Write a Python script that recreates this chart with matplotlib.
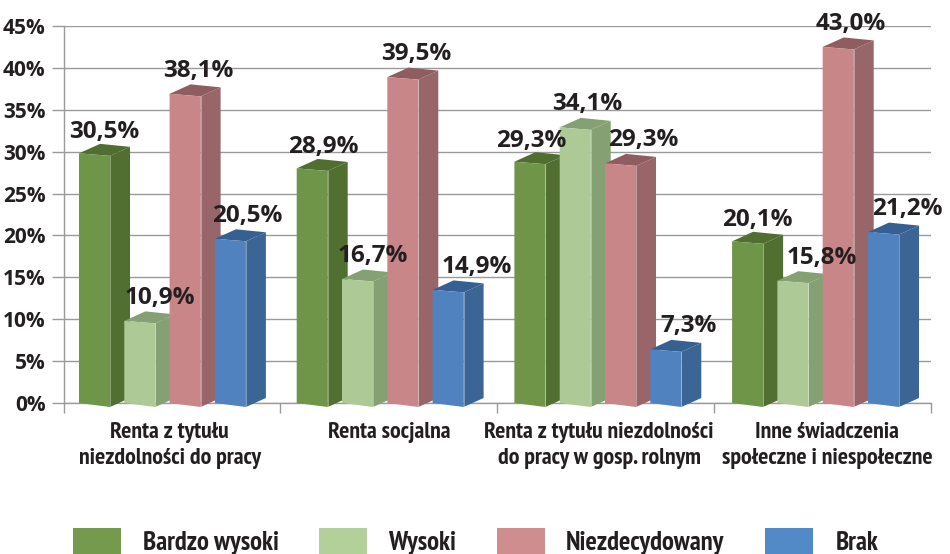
import matplotlib
matplotlib.use("Agg")
import matplotlib.pyplot as plt
from matplotlib import font_manager as fm
from matplotlib.patches import Polygon, Rectangle

#data
categories = ["Renta z tytułu\nniezdolności do pracy", "Renta socjalna",
              "Renta z tytułu niezdolności\ndo pracy w gosp. rolnym",
              "Inne świadczenia\nspołeczne i niespołeczne"]
series_names = ["Bardzo wysoki", "Wysoki", "Niezdecydowany", "Brak"]
bardzo_wysoki = [30.5, 28.9, 29.3, 20.1]
wysoki = [10.9, 16.7, 34.1, 15.8]
niezdecydowany = [38.1, 39.5, 29.3, 43.0]
brak = [20.5, 14.9, 7.3, 21.2]
#the drawn bars sit a bit lower than their printed labels, heights
height_bardzo_wysoki = [29.8, 28.0, 28.8, 19.3]
height_wysoki = [9.8, 14.8, 32.9, 14.6]
height_niezdecydowany = [36.9, 38.9, 28.6, 42.5]
height_brak = [19.6, 13.5, 6.4, 20.4]
y_ticks = [0, 5, 10, 15, 20, 25, 30, 35, 40, 45]

#styles
FRONT = ["#6f9549", "#adc995", "#c88688", "#4f82bf"]
SIDE = ["#506f31", "#85a072", "#986669", "#3b6595"]
TOP = ["#4f6e30", "#85a072", "#8f5d60", "#366092"]
LEGEND = ["#769a4d", "#b3d09a", "#d08d90", "#528ac8"]
TEXT = "#231f20"
GRID = "#9a9a9a"
WIDE_FONT = ["Open Sans", "DejaVu Sans"]

#condensed bold for the category names, Open Sans at a smaller size if it is missing
try:
    fm.findfont("PT Sans Narrow", fallback_to_default=False)
    NARROW_FONT, NARROW_SCALE = ["PT Sans Narrow", "DejaVu Sans"], 1.0
except ValueError:
    NARROW_FONT, NARROW_SCALE = WIDE_FONT, 0.72

W, H = 950, 554
LEFT, RIGHT, TOP_Y, BOTTOM_Y = 63.5, 931.0, 26.0, 403.0
PX_X = (RIGHT - LEFT) / 4
PX_Y = (BOTTOM_Y - TOP_Y) / 45

#label shift from the centre of the bar's front face, px
label_dx = [[10, 20, 13, 17], [11, 15, 13, 29], [1, 12, 23, 23], [10, 29, 13, 24]]
label_dy = [21, 23, 23, 23]

plt.rcParams["font.family"] = WIDE_FONT
plt.rcParams["font.weight"] = "bold"
fig = plt.figure(figsize=(W / 100, H / 100), dpi=100)
ax = fig.add_axes([LEFT / W, 1 - BOTTOM_Y / H, (RIGHT - LEFT) / W, (BOTTOM_Y - TOP_Y) / H])
ax.set_xlim(0, 4)
ax.set_ylim(0, 45)
for s in ["top", "right", "bottom"]:
    ax.spines[s].set_visible(False)
ax.spines["left"].set_color(GRID)
ax.spines["left"].set_linewidth(1.0)

#grid runs out over the tick marks
ax.set_axisbelow(True)
ax.set_yticks(y_ticks)
ax.set_yticklabels([f"{v}%" for v in y_ticks], fontsize=15, color=TEXT)
ax.tick_params(axis="y", length=9, width=1.0, color=GRID, pad=4)
ax.grid(True, axis="y", color=GRID, linewidth=1.0)
ax.axhline(0, color=GRID, linewidth=1.0, clip_on=False)

ax.set_xticks([0, 1, 2, 3, 4])
ax.set_xticklabels([])
ax.tick_params(axis="x", which="major", length=7, width=1.0, color=GRID)
ax.set_xticks([0.49, 1.5, 2.47, 3.52], minor=True)
ax.set_xticklabels(categories, minor=True, fontsize=17.2 * NARROW_SCALE, color=TEXT,
                   linespacing=1.3, family=NARROW_FONT)
ax.tick_params(axis="x", which="minor", length=0, pad=14)


def dx(px):
    return px / PX_X


def dy(px):
    return px / PX_Y


def draw_bar(x, h, j):
    w = dx(31)
    fall = dy(2.5)      #front top edge drops to the right
    fall_b = dy(4)      #front bottom edge too
    side_x, side_y = dx(20), dy(9)
    front = [(x, h), (x + w, h - fall), (x + w, -fall_b), (x, 0)]
    side = [(x + w, h - fall), (x + w + side_x, h - fall + side_y),
            (x + w + side_x, -fall_b + side_y), (x + w, -fall_b)]
    top = [(x, h), (x + w, h - fall), (x + w + side_x, h - fall + side_y),
           (x + dx(21), h + dy(9.5))]
    for pts, col in [(side, SIDE[j]), (top, TOP[j]), (front, FRONT[j])]:
        ax.add_patch(Polygon(pts, closed=True, facecolor=col, edgecolor="none",
                             clip_on=False, zorder=3))
    #thin light edge between the front and side
    ax.plot([x + w, x + w], [-fall_b, h - fall], color="white", alpha=0.35,
            linewidth=0.7, clip_on=False, zorder=3)


values = [bardzo_wysoki, wysoki, niezdecydowany, brak]
heights = [height_bardzo_wysoki, height_wysoki, height_niezdecydowany, height_brak]

for i in range(len(categories)):
    x0 = i * 217.7 / PX_X + dx(15.5)
    for j in range(len(series_names)):
        x = x0 + j * dx(45.3)
        h = heights[j][i]
        draw_bar(x, h, j)
        ax.text(x + dx(15.5 + label_dx[i][j]), h + dy(label_dy[j]),
                f"{values[j][i]:.1f}%".replace(".", ","),
                ha="center", va="center", fontsize=17.5, color=TEXT,
                clip_on=False, zorder=5)

#legend is cut by the bottom of the picture, as in the original
legend_x = [73, 319, 497, 765]
legend_text_x = [211, 422, 645, 857]
for xp, xt, name, col in zip(legend_x, legend_text_x, series_names, LEGEND):
    fig.add_artist(Rectangle((xp / W, 0), 48 / W, 26 / H, transform=fig.transFigure,
                             facecolor=col, edgecolor="none"))
    fig.text(xt / W, 1 - 543 / H, name, ha="center", va="center",
             fontsize=19.3 * NARROW_SCALE, color=TEXT, family=NARROW_FONT)

fig.savefig("out.png", dpi=100)
